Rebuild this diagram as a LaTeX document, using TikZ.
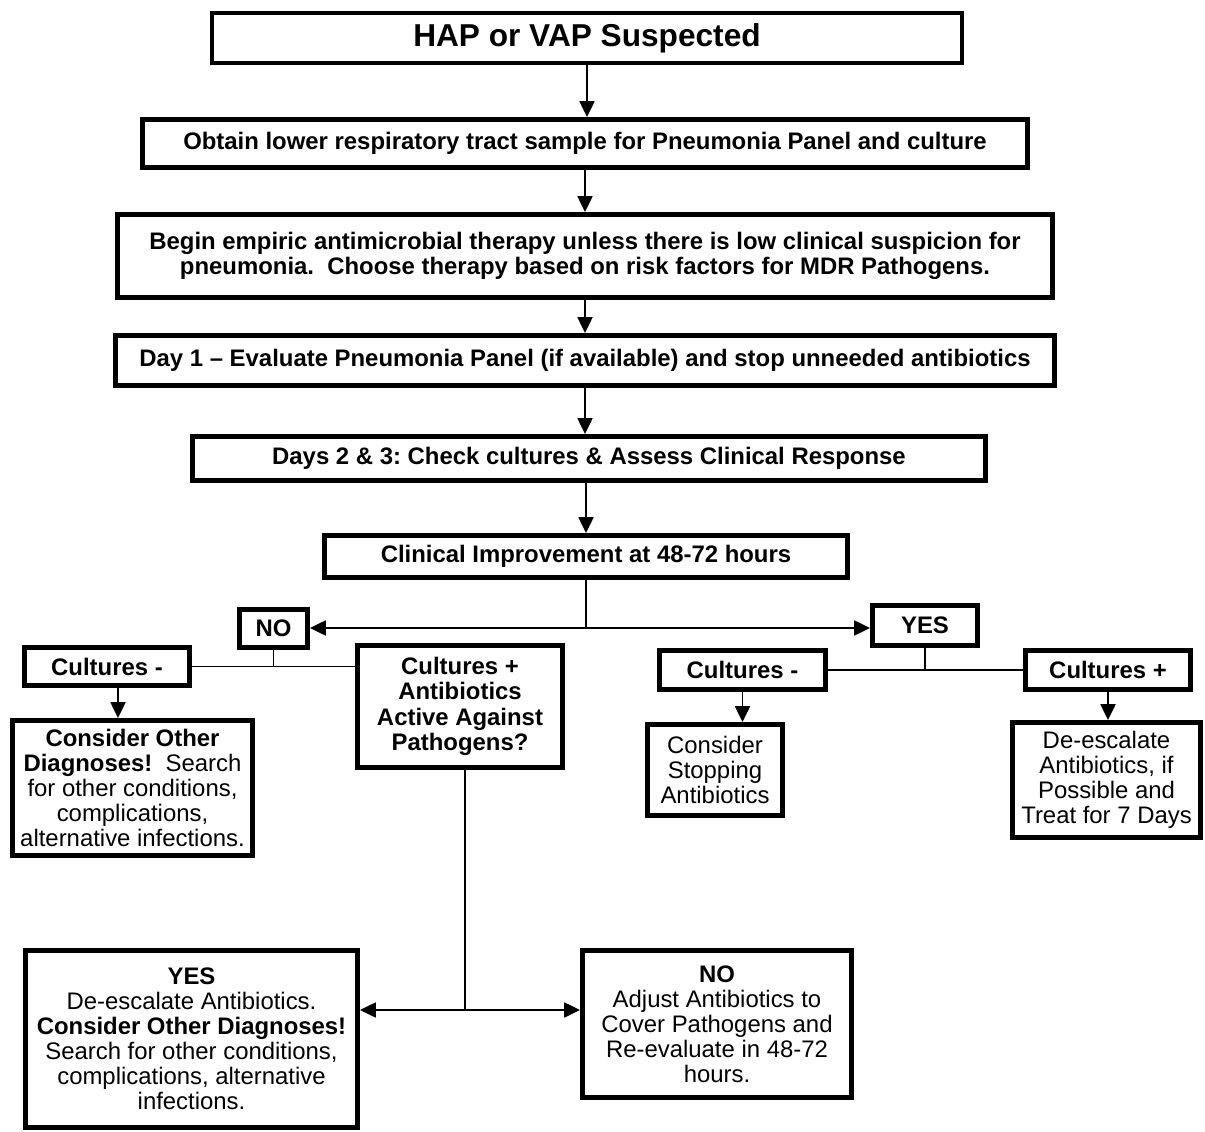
\documentclass[tikz,border=0pt]{standalone}
\usepackage{fontspec}
\setmainfont{Liberation Sans}
\frenchspacing
\usetikzlibrary{arrows.meta,positioning}

\begin{document}
\begin{tikzpicture}[
    box/.style={draw, line width=2.8pt, inner sep=0pt, align=center,
        font=\fontsize{13.6}{14.4}\selectfont\bfseries},
    plainbox/.style={box, font=\fontsize{13.6}{14.2}\selectfont},
    arr/.style={line width=1.1pt, -{Triangle[length=9pt, width=8.5pt]}},
    dblarr/.style={line width=1.1pt, {Triangle[length=9pt, width=8.5pt]}-{Triangle[length=9pt, width=8.5pt]}},
    link/.style={line width=1.1pt}
]
    \useasboundingbox (0,0) rectangle (24.1,-22.64);
    % main column
    \node[box, minimum width=15cm, minimum height=1cm, font=\fontsize{18}{20}\selectfont\bfseries] (hap) at (11.74,-0.76) {HAP or VAP Suspected};
    \node[box, minimum width=17.7cm, minimum height=0.96cm] (obtain) at (11.7,-2.87) {Obtain lower respiratory tract sample for Pneumonia Panel and culture};
    \node[box, minimum width=18.7cm, minimum height=1.66cm] (begin) at (11.7,-5.12) {Begin empiric antimicrobial therapy unless there is low clinical suspicion for\\ pneumonia.\ \ Choose therapy based on risk factors for MDR Pathogens.};
    \node[box, minimum width=18.78cm, minimum height=1cm] (day1) at (11.7,-7.21) {Day 1 -- Evaluate Pneumonia Panel (if available) and stop unneeded antibiotics};
    \node[box, minimum width=15.86cm, minimum height=0.88cm] (days) at (11.78,-9.17) {Days 2 \& 3: Check cultures \& Assess Clinical Response};
    \node[box, minimum width=10.46cm, minimum height=0.84cm] (clin) at (11.72,-11.13) {Clinical Improvement at 48-72 hours};
    % no / yes branches
    \node[box, minimum width=1.36cm, minimum height=0.76cm] (no) at (5.47,-12.57) {NO};
    \node[box, minimum width=2.1cm, minimum height=0.8cm] (yes) at (18.5,-12.51) {YES};
    \node[box, minimum width=3.3cm, minimum height=0.76cm] (negL) at (2.14,-13.33) {Cultures -};
    \node[box, minimum width=4.1cm, minimum height=2.44cm] (posL) at (9.2,-14.13) {Cultures +\\ Antibiotics\\ Active Against\\ Pathogens?};
    \node[plainbox, minimum width=4.8cm, minimum height=2.7cm] (other) at (2.65,-15.76) {\textbf{Consider Other}\\ \textbf{Diagnoses!}\ \ Search\\ for other conditions,\\ complications,\\ alternative infections.};
    \node[box, minimum width=3.32cm, minimum height=0.78cm] (negR) at (14.85,-13.4) {Cultures -};
    \node[box, minimum width=3.3cm, minimum height=0.78cm] (posR) at (22.16,-13.4) {Cultures +};
    \node[plainbox, minimum width=2.7cm, minimum height=1.82cm] (stop) at (14.3,-15.4) {Consider\\ Stopping\\ Antibiotics};
    \node[plainbox, minimum width=3.76cm, minimum height=2.3cm] (deesc) at (22.13,-15.6) {De-escalate\\ Antibiotics, if\\ Possible and\\ Treat for 7 Days};
    % bottom outcomes
    \node[plainbox, minimum width=6.64cm, minimum height=3.54cm] (yesB) at (3.83,-20.78) {\textbf{YES}\\ De-escalate Antibiotics.\\ \textbf{Consider Other Diagnoses!}\\ Search for other conditions,\\ complications, alternative\\ infections.};
    \node[plainbox, minimum width=5.38cm, minimum height=2.94cm] (noB) at (14.34,-20.48) {\textbf{NO}\\ Adjust Antibiotics to\\ Cover Pathogens and\\ Re-evaluate in 48-72\\ hours.};
    \coordinate (split) at (11.72,-12.56);
    \coordinate (split2) at (9.3,-20.2);

    \draw[arr] (hap.south) -- (hap.south |- obtain.north);
    \draw[arr] (obtain.south) -- (obtain.south |- begin.north);
    \draw[arr] (begin.south) -- (begin.south |- day1.north);
    \draw[arr] (day1.south) -- (day1.south |- days.north);
    \draw[arr] (clin.north |- days.south) -- (clin.north);
    \draw[link] (clin.south) -- (split);
    \draw[dblarr] (no.east |- split) -- (yes.west |- split);
    \draw[link] (negL.east) -- (posL.west |- negL.east);
    \draw[link] (no.south) -- (no.south |- negL.east);
    \draw[arr] ([xshift=0.22cm]negL.south) -- ([xshift=0.22cm]negL.south |- other.north);
    \draw[link] (negR.east) -- (posR.west);
    \draw[link] (yes.south) -- (yes.south |- negR.east);
    \draw[arr] (negR.south) -- (negR.south |- stop.north);
    \draw[arr] (posR.south) -- (posR.south |- deesc.north);
    \draw[link] (split2 |- posL.south) -- (split2);
    \draw[dblarr] (yesB.east |- split2) -- (noB.west |- split2);
\end{tikzpicture}
\end{document}
